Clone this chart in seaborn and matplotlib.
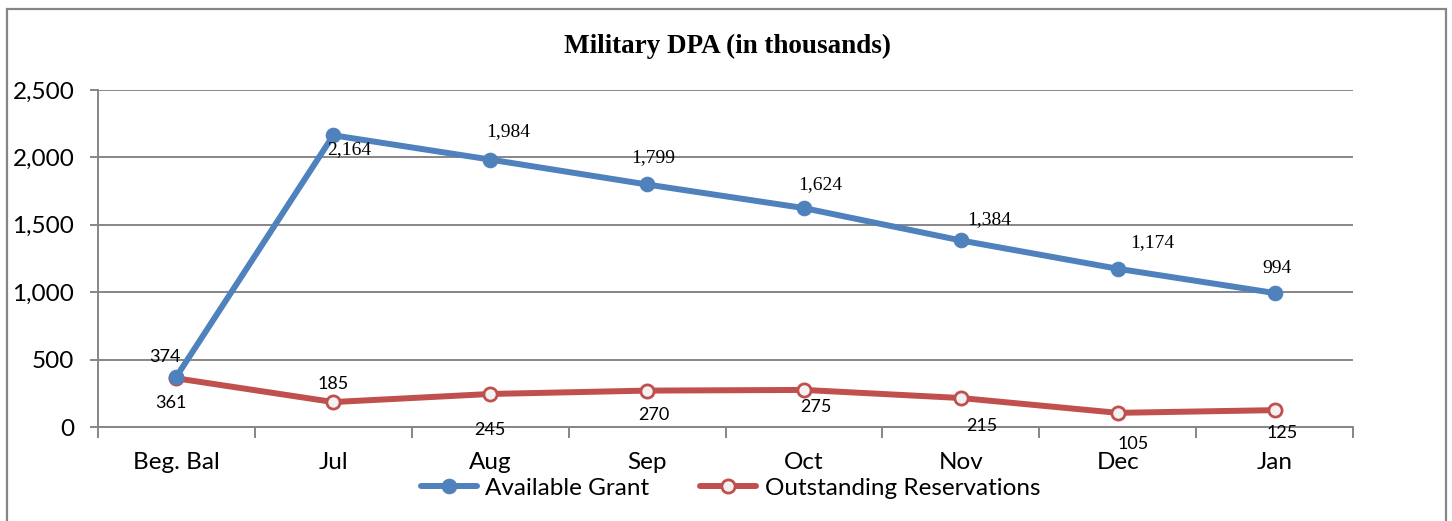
import matplotlib
matplotlib.use("Agg")
import matplotlib.pyplot as plt
import seaborn as sns
import pandas as pd
from matplotlib.patches import Rectangle

categories = ["Beg. Bal", "Jul", "Aug", "Sep", "Oct", "Nov", "Dec", "Jan"]
available_grant = [374, 2164, 1984, 1799, 1624, 1384, 1174, 994]
outstanding_res = [361, 185, 245, 270, 275, 215, 105, 125]
yticks = [0, 500, 1000, 1500, 2000, 2500]
title = "Military DPA (in thousands)"

# label offsets in pixels (dx, dy with dy downward)
blue_off = [(-11, -20), (16, 14), (18, -28), (6, -27), (16, -23), (28, -21), (35, -26), (2, -25)]
red_off = [(-6, 25), (0, -18), (0, 36), (7, 24), (12, 17), (21, 28), (15, 31), (8, 23)]

sns.set_theme(style="white")
plt.rcParams["font.family"] = ["Lato", "DejaVu Sans"]
plt.rcParams["text.color"] = "#000000"

BLUE = "#4F81BD"
RED = "#C0504D"
GRID = "#868686"

fig = plt.figure(figsize=(14.52, 5.21), dpi=100)
ax = fig.add_axes([98 / 1452, 1 - 427 / 521, (1353 - 98) / 1452, (427 - 90) / 521])

df_b = pd.DataFrame({"cat": categories, "val": available_grant})
df_r = pd.DataFrame({"cat": categories, "val": outstanding_res})

sns.lineplot(data=df_b, x="cat", y="val", sort=False, ax=ax, color=BLUE, lw=4.3,
             marker="o", markersize=10.5, markerfacecolor=BLUE, markeredgecolor=BLUE,
             label="Available Grant", zorder=4)
sns.lineplot(data=df_r, x="cat", y="val", sort=False, ax=ax, color=RED, lw=4.3,
             marker="o", markersize=9.5, markerfacecolor="#F2F2F2", markeredgecolor=RED,
             markeredgewidth=2.0, label="Outstanding Reservations", zorder=3)

ax.set_xlim(-0.5, len(categories) - 0.5)
ax.set_ylim(0, 2500)
ax.set_yticks(yticks)
ax.set_yticklabels([f"{v:,}" for v in yticks])
ax.set_xticks(range(len(categories)))
ax.set_xticklabels(categories)
ax.set_xticks([i - 0.5 for i in range(len(categories) + 1)], minor=True)
ax.set_xlabel("")
ax.set_ylabel("")

ax.grid(axis="y", color=GRID, lw=1.4)
ax.grid(axis="x", visible=False)
ax.set_axisbelow(True)
for s in ["top", "right"]:
    ax.spines[s].set_visible(False)
for s in ["left", "bottom"]:
    ax.spines[s].set_visible(True)
    ax.spines[s].set_color(GRID)
    ax.spines[s].set_linewidth(1.4)

ax.tick_params(axis="y", which="major", left=True, length=6, width=1.4, color=GRID,
               pad=11, labelsize=17.5, labelcolor="#000000")
ax.tick_params(axis="x", which="major", bottom=True, length=0, pad=18, labelsize=17.5,
               labelcolor="#000000")
ax.tick_params(axis="x", which="minor", bottom=True, length=8, width=1.4, color=GRID)

for i, v in enumerate(available_grant):
    dx, dy = blue_off[i]
    fam = ["Lato"] if i == 0 else ["Liberation Serif"]
    ax.annotate(f"{v:,}", (i, v), xytext=(dx, -dy), textcoords="offset pixels",
                ha="center", va="center", fontsize=14 if i else 13, family=fam,
                color="#000000", zorder=6)
for i, v in enumerate(outstanding_res):
    dx, dy = red_off[i]
    ax.annotate(f"{v:,}", (i, v), xytext=(dx, -dy), textcoords="offset pixels",
                ha="center", va="center", fontsize=13, family=["Lato"],
                color="#000000", zorder=6)

fig.text(727 / 1452, 1 - 46 / 521, title, ha="center", va="center", color="#000000",
         fontsize=19.5, fontweight="bold", family=["Liberation Serif"])

leg = ax.legend(loc="center", bbox_to_anchor=(0.5 + 5 / 1255, (427 - 488) / (427 - 90)),
                ncol=2, frameon=False, fontsize=17.5, handlelength=2.3,
                handletextpad=0.35, columnspacing=2.1)
for t in leg.get_texts():
    t.set_color("#000000")

fig.patches.append(Rectangle((7 / 1452, -0.05), (1446 - 7) / 1452, 1.05 - 9 / 521,
                             transform=fig.transFigure, fill=False, edgecolor=GRID,
                             lw=1.6, zorder=10))

fig.savefig("out.png", dpi=100)
